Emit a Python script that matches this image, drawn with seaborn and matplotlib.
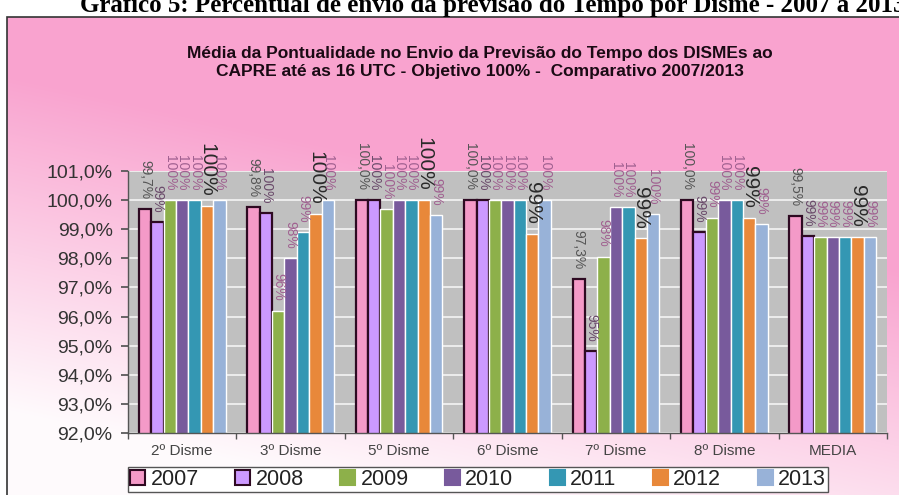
import numpy as np
import pandas as pd
import matplotlib
matplotlib.use('Agg')
import matplotlib.pyplot as plt
import seaborn as sns
from matplotlib.patches import Rectangle, Patch
from matplotlib.ticker import FuncFormatter

# dados (percentual de pontualidade)
dismes = ['2º Disme', '3º Disme', '5º Disme', '6º Disme', '7º Disme', '8º Disme', 'MEDIA']
anos = ['2007', '2008', '2009', '2010', '2011', '2012', '2013']
v2007 = [99.7, 99.77, 100.0, 100.0, 97.3, 100.0, 99.46]
v2008 = [99.24, 99.55, 100.0, 100.0, 94.8, 98.9, 98.76]
v2009 = [100.0, 96.2, 99.7, 100.0, 98.06, 99.4, 98.73]
v2010 = [100.0, 98.0, 100.0, 100.0, 99.76, 100.0, 98.73]
v2011 = [100.0, 98.9, 100.0, 100.0, 99.76, 100.0, 98.73]
v2012 = [99.79, 99.52, 100.0, 98.85, 98.69, 99.4, 98.73]
v2013 = [100.0, 100.0, 99.48, 100.0, 99.52, 99.17, 98.73]
y_ticks = [92, 93, 94, 95, 96, 97, 98, 99, 100, 101]

series = [v2007, v2008, v2009, v2010, v2011, v2012, v2013]
df = pd.DataFrame({
    'disme': dismes * len(anos),
    'ano': [a for a in anos for _ in dismes],
    'valor': [v for s in series for v in s],
})

cores = ['#F49AC8', '#CC99FF', '#8DB04A', '#785A9C', '#3497B3', '#E8883A', '#98B2D8']
borda = '#2E0A22'

sns.set_theme(style='white')
plt.rcParams['font.family'] = ['Liberation Sans', 'DejaVu Sans']

W, H = 899, 495
fig = plt.figure(figsize=(W / 100, H / 100), dpi=100)

# fundo rosa em degrade dentro da moldura
yy, xx = np.mgrid[0:H, 0:W]
yn = (yy - 17) / (H - 17)
xn = (xx - 7) / (W - 7)
w = np.clip((yn - 0.12) * 1.35 - 0.55 * xn, 0, 0.95)
pink = np.array([249, 163, 207]) / 255.0
img = pink[None, None, :] * (1 - w[..., None]) + w[..., None]
img[(yy < 17) | (xx < 7)] = 1.0
bg = fig.add_axes([0, 0, 1, 1], zorder=-10)
bg.imshow(img, aspect='auto', interpolation='bilinear')
bg.axis('off')

fig.patches.append(Rectangle((7 / W, -0.05), 1.0, 1 - 17 / H + 0.05, transform=fig.transFigure,
                             fill=False, edgecolor='#333333', lw=1.2))

# cabecalho do documento, cortado no topo como no original
fig.text(80 / W, 1 - 12 / H,
         'Gráfico 5: Percentual de envio da previsão do Tempo por Disme - 2007 a 2013',
         family=['Liberation Serif', 'DejaVu Serif'], fontweight='bold', fontsize=18,
         va='baseline', ha='left', color='black')

fig.text(480 / W, 1 - 63 / H,
         'Média da Pontualidade no Envio da Previsão do Tempo dos DISMEs ao\n'
         'CAPRE até as 16 UTC - Objetivo 100% -  Comparativo 2007/2013',
         fontsize=12.5, fontweight='bold', ha='center', va='center', color='#1a0a14',
         linespacing=1.25)

ax = fig.add_axes([128 / W, 1 - 433 / H, (887 - 128) / W, (433 - 171) / H])
sns.barplot(data=df, x='disme', y='valor', hue='ano', palette=cores, width=0.8,
            saturation=1, ax=ax, legend=False)

ax.set_facecolor('#C0C0C0')
ax.set_ylim(92, 101)
ax.set_xlim(-0.5, 6.5)
ax.set_yticks(y_ticks)
ax.yaxis.set_major_formatter(FuncFormatter(lambda v, p: f'{v:.1f}%'.replace('.', ',')))
ax.yaxis.grid(True, color='#F4F4F4', lw=1.2)
ax.set_axisbelow(True)
ax.set_xlabel('')
ax.set_ylabel('')
for s in ['top', 'right']:
    ax.spines[s].set_visible(False)
for s in ['left', 'bottom']:
    ax.spines[s].set_color('#555555')
    ax.spines[s].set_linewidth(1)
ax.tick_params(axis='y', left=True, length=5, color='#555555', labelsize=14,
               labelcolor='#333333', pad=6)
ax.tick_params(axis='x', which='major', length=0, labelsize=11, labelcolor='#444444', pad=8)
ax.set_xticks(np.arange(-0.5, 7, 1), minor=True)
ax.tick_params(axis='x', which='minor', bottom=True, length=4, color='#555555')

cor_rot = ['#555555', '#6A4A6A', '#A06090', '#A06090', '#A06090', '#2A2A2A', '#A06090']
for i, cont in enumerate(ax.containers):
    if i < 2:
        for bar in cont:
            bar.set_edgecolor(borda)
            bar.set_linewidth(1.6)
    if i == 0:
        rot = [f'{v:.1f}%'.replace('.', ',') for v in series[i]]
    else:
        rot = [f'{v:.0f}%' for v in series[i]]
    tam = 15 if i == 5 else 10
    ax.bar_label(cont, labels=rot, rotation=-90, padding=7, fontsize=tam,
                 color=cor_rot[i], family=['Liberation Sans Narrow', 'Liberation Sans', 'DejaVu Sans'])

handles = [Patch(facecolor=c, edgecolor=borda if i < 2 else c, lw=1.5) for i, c in enumerate(cores)]
leg = fig.legend(handles, anos, loc='lower left', bbox_to_anchor=(128 / W, 3 / H, 700 / W, 27 / H),
                 mode='expand', ncol=7, frameon=True, fancybox=False, edgecolor='#555555',
                 fontsize=15.5, handlelength=0.7, handleheight=0.7, handletextpad=0.25,
                 borderpad=0.1, borderaxespad=0, framealpha=1)
leg.get_frame().set_linewidth(1)
for t in leg.get_texts():
    t.set_color('#222222')

fig.savefig('out.png', dpi=100)
